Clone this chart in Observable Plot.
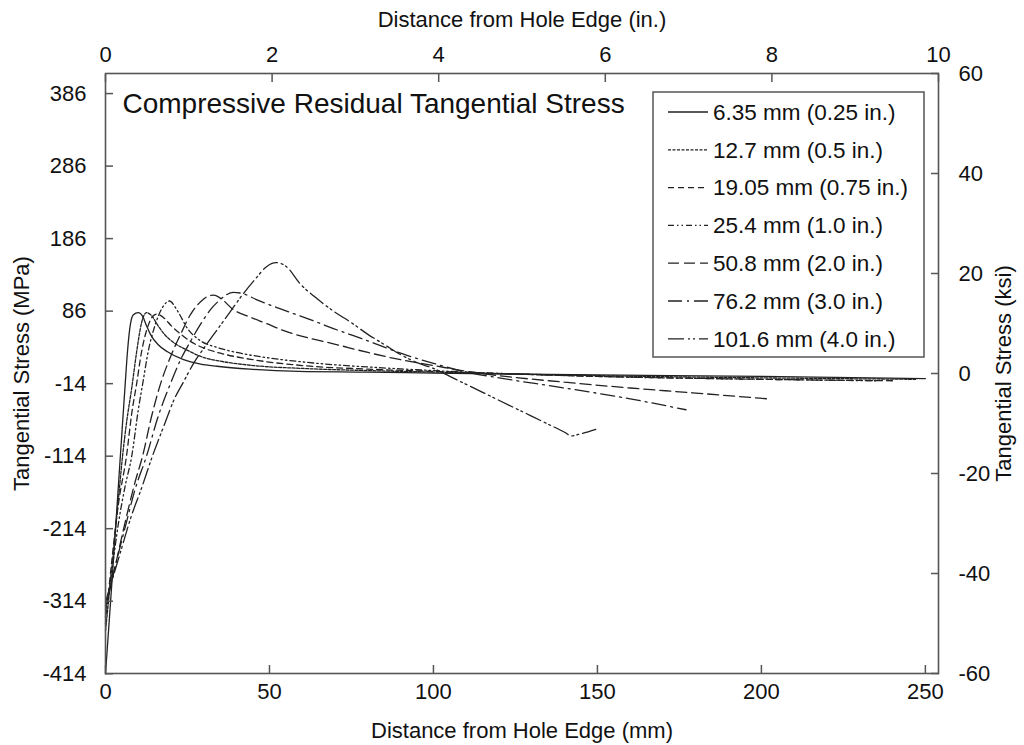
<!DOCTYPE html>
<html><head><meta charset="utf-8">
<script src="https://cdn.jsdelivr.net/npm/d3@7"></script>
<script src="https://cdn.jsdelivr.net/npm/@observablehq/plot@0.6"></script>
<style>
body{margin:0;background:#fff;font-family:"Liberation Sans",Arial,sans-serif;}
#wrap{position:relative;width:1024px;height:745px;overflow:hidden;}
#legend{position:absolute;left:0;top:0;pointer-events:none;}
</style></head><body><div id="wrap"></div>
<script>
// ---- data (distance in mm, tangential stress in MPa) ----
const seriesNames = ["6.35 mm (0.25 in.)","12.7 mm (0.5 in.)","19.05 mm (0.75 in.)","25.4 mm (1.0 in.)","50.8 mm (2.0 in.)","76.2 mm (3.0 in.)","101.6 mm (4.0 in.)"];
const dashes = [null,"3,1.5","6,4","6,3,1.5,3,1.5,3","11,5","14,5,2,5","16,4,2,3,2,4"];

const x1 = [0,1,2,3,4,5,6,6.7,7.6,8.5,10,11.3,12.5,13.7,16,18.9,23.8,29,34,44,59,80,100,150,200,250];
const y1 = [-414,-350,-285,-218,-150,-82,-15,30,68,81,84,79,66,54,40,30,19,13,10,6,3,2,0.5,-2,-4,-7];

const x2 = [0,2,4,5.2,6.5,8,9.5,11,12.5,14,16,18,21,25,30,35,45,60,80,100,150,200,247];
const y2 = [-355,-265,-170,-114,-65,-20,30,70,84,80,66,54,42,32,22,17,11,7,4,2,-3,-6,-8];

const x3 = [0,2,4,6.4,8,9.5,11,13,15.5,18,20,23,26,30,35,45,60,80,100,150,200,240];
const y3 = [-345,-255,-178,-114,-55,-14,30,66,82,76,66,54,44,35,28,19,11,6,3,-4,-8,-10];

const x4 = [0,2,4,6,8,10,11.5,13,15,17.5,19.5,22,25,29,34,40,49,60,70,80,100,150,200,235];
const y4 = [-335,-270,-205,-155,-114,-50,-10,30,65,92,100,86,62,45,36,29,22,16,12,9,4,-4,-8,-10];

const x5 = [0,3,6,9,11.3,14,16.8,20,23,26,29,31,33,35,39,44,49,55,62,69.5,80,90,100,110,120,140,160,180,202];
const y5 = [-325,-265,-205,-150,-114,-60,-14,25,55,82,99,106,108,104,88,78,69,58,49,41,29,19,11,3,-3,-12,-20,-27,-35];

const x6 = [0,3,6,9,12.5,16,19.8,23,26,29,32,35,37,39,42,46,54,62,69.5,80,90,100,110,120,140,160,177];
const y6 = [-320,-265,-212,-160,-114,-60,-14,20,45,68,88,102,109,112,110,102,88,75,62,45,28,14,2,-6,-20,-35,-50];

const x7 = [0,4,8,11,14.3,18,21,23.5,27,30,34,38,42,46,49,52,55,59.5,64,69.5,75,80,85,90,95,100,105,115,125,135,140,142,145,149.5];
const y7 = [-315,-255,-195,-158,-114,-70,-35,-14,15,35,60,85,110,132,147,153,148,123,105,86,70,54,40,26,15,7,-4,-26,-48,-70,-81,-86,-83,-77];

const xs = [x1,x2,x3,x4,x5,x6,x7];
const ys = [y1,y2,y3,y4,y5,y6,y7];

const mmTicks = [0,50,100,150,200,250];
const inTicks = [0,2,4,6,8,10];
const mpaTicks = [-414,-314,-214,-114,-14,86,186,286,386];
const ksiTicks = [-60,-40,-20,0,20,40,60];

const MM_PER_IN = 25.4, MPA_PER_KSI = 6.89476;
const yMax = 60 * MPA_PER_KSI;
const ink = "#222";
const axisInk = "#555";

const lineMarks = seriesNames.map((name, i) => {
  const rows = xs[i].map((x, j) => ({x, y: ys[i][j], series: name}));
  return Plot.line(rows, {x: "x", y: "y", stroke: ink, strokeWidth: 1.3, strokeDasharray: dashes[i] || undefined, curve: "monotone-x"});
});

const chart = Plot.plot({
  width: 1024, height: 745,
  marginLeft: 105, marginRight: 86, marginTop: 73, marginBottom: 72,
  style: {fontFamily: "'Liberation Sans', Arial, sans-serif", fontSize: "22px", color: "#111", background: "#fff", overflow: "visible"},
  x: {domain: [0, 254]},
  y: {domain: [-yMax, yMax]},
  marks: [
    ...lineMarks,
    Plot.frame({stroke: axisInk, strokeWidth: 1.6}),
    // bottom (mm): inward ticks
    Plot.axisX({anchor: "bottom", ticks: mmTicks, tickSize: 8, dy: -8, tickFormat: () => "", label: null, stroke: axisInk, strokeWidth: 1.5}),
    Plot.axisX({anchor: "bottom", ticks: mmTicks, tickSize: 0, tickPadding: 10, tickFormat: d => String(d), fontSize: 22,
      label: "Distance from Hole Edge (mm)", labelAnchor: "center", labelOffset: 64, labelArrow: "none"}),
    // top (in.)
    Plot.axisX({anchor: "top", ticks: inTicks.map(v => v * MM_PER_IN), tickSize: 8, dy: 8, tickFormat: () => "", label: null, stroke: axisInk, strokeWidth: 1.5}),
    Plot.axisX({anchor: "top", ticks: inTicks.map(v => v * MM_PER_IN), tickSize: 0, tickPadding: 12, tickFormat: d => String(Math.round(d / MM_PER_IN)), fontSize: 22,
      label: "Distance from Hole Edge (in.)", labelAnchor: "center", labelOffset: 62, labelArrow: "none"}),
    // left (MPa)
    Plot.axisY({anchor: "left", ticks: mpaTicks, tickSize: 8, dx: 8, tickFormat: () => "", label: null, stroke: axisInk, strokeWidth: 1.5}),
    Plot.axisY({anchor: "left", ticks: mpaTicks, tickSize: 0, tickPadding: 19, tickFormat: d => String(d), fontSize: 22,
      label: "Tangential Stress (MPa)", labelAnchor: "center", labelOffset: 92, labelArrow: "none"}),
    // right (ksi)
    Plot.axisY({anchor: "right", ticks: ksiTicks.map(v => v * MPA_PER_KSI), tickSize: 8, dx: -8, tickFormat: () => "", label: null, stroke: axisInk, strokeWidth: 1.5}),
    Plot.axisY({anchor: "right", ticks: ksiTicks.map(v => v * MPA_PER_KSI), tickSize: 0, tickPadding: 20, tickFormat: d => String(Math.round(d / MPA_PER_KSI)), fontSize: 22,
      label: "Tangential Stress (ksi)", labelAnchor: "center", labelOffset: 72, labelArrow: "none"}),
    Plot.text(["Compressive Residual Tangential Stress"], {frameAnchor: "top-left", dx: 17, dy: 20, textAnchor: "start", lineAnchor: "top", fontSize: 28, fill: "#111"})
  ]
});
document.getElementById("wrap").appendChild(chart);

// ---- legend overlay ----
const lg = d3.select("#wrap").append("svg").attr("id", "legend").attr("width", 1024).attr("height", 745);
lg.append("rect").attr("x", 653).attr("y", 92).attr("width", 271).attr("height", 265)
  .attr("fill", "#fff").attr("stroke", axisInk).attr("stroke-width", 1.5);
seriesNames.forEach((name, i) => {
  const cy = 112 + i * 37.8;
  lg.append("line").attr("x1", 668).attr("x2", 708).attr("y1", cy).attr("y2", cy)
    .attr("stroke", ink).attr("stroke-width", 1.3).attr("stroke-dasharray", dashes[i]);
  lg.append("text").attr("x", 713).attr("y", cy).attr("dy", "0.35em")
    .attr("font-family", "'Liberation Sans', Arial, sans-serif").attr("font-size", 22.5).attr("fill", "#111").text(name);
});
</script></body></html>
